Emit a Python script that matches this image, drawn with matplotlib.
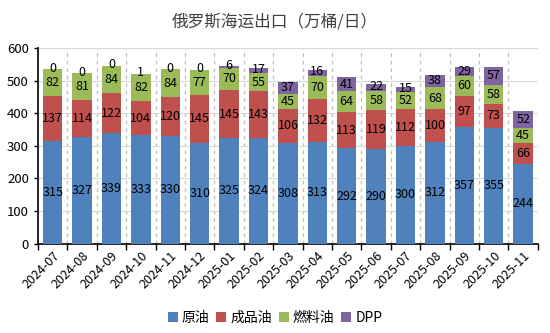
import matplotlib.pyplot as plt
import numpy as np

plt.rcParams['font.family'] = ['Noto Sans CJK SC', 'DejaVu Sans']

months = ["2024-07", "2024-08", "2024-09", "2024-10", "2024-11", "2024-12",
          "2025-01", "2025-02", "2025-03", "2025-04", "2025-05", "2025-06",
          "2025-07", "2025-08", "2025-09", "2025-10", "2025-11"]
crude = [315, 327, 339, 333, 330, 310, 325, 324, 308, 313, 292, 290, 300, 312, 357, 355, 244]
products = [137, 114, 122, 104, 120, 145, 145, 143, 106, 132, 113, 119, 112, 100, 97, 73, 66]
fuel_oil = [82, 81, 84, 82, 84, 77, 70, 55, 45, 70, 64, 58, 52, 68, 60, 58, 45]
dpp = [0, 0, 0, 1, 0, 0, 6, 17, 37, 16, 41, 22, 15, 38, 29, 57, 52]

series = [("原油", crude, "#4F81BD"), ("成品油", products, "#C0504D"),
          ("燃料油", fuel_oil, "#9BBB59"), ("DPP", dpp, "#8064A2")]

fig = plt.figure(figsize=(5.5, 3.33), dpi=100)
ax = fig.add_axes([0.069, 0.268, 0.909, 0.588])

x = np.arange(len(months))
bottom = np.zeros(len(months))
for name, vals, color in series:
    vals = np.array(vals, dtype=float)
    ax.bar(x, vals, 0.66, bottom=bottom, color=color, label=name, zorder=3)
    for xi, b, v in zip(x, bottom, vals):
        y = b + v / 2
        if name == "DPP" and v < 25:
            y += 4  # small slices: lift the label a little so it clears the one below
        ax.text(xi, y, f"{int(v)}", ha='center', va='center',
                fontsize=9, color='black', zorder=4)
    bottom += vals

ax.set_xlim(-0.5, len(months) - 0.5)
ax.set_ylim(0, 600)
ax.set_yticks(range(0, 601, 100))
ax.tick_params(axis='y', labelsize=9.5, length=3, width=1)
ax.yaxis.grid(True, color='#d9d9d9', linewidth=0.8, zorder=0)
for b in np.arange(0.5, len(months) - 0.5, 1.0):
    ax.axvline(b, color='#bfbfbf', linestyle=(0, (3, 3)), linewidth=0.9, zorder=1)
ax.axvline(len(months) - 0.5, color='#bfbfbf', linestyle=(0, (3, 3)), linewidth=0.9, zorder=1)

ax.set_xticks(x)
ax.set_xticklabels(months, rotation=45, ha='right', rotation_mode='anchor', fontsize=9)
ax.tick_params(axis='x', length=0, pad=4)
ax.set_xticks(np.arange(-0.5, len(months), 1.0), minor=True)
ax.tick_params(axis='x', which='minor', length=4, width=1)

for s in ['top', 'right']:
    ax.spines[s].set_visible(False)
ax.spines['left'].set_linewidth(1.2)
ax.spines['bottom'].set_linewidth(1.2)

fig.suptitle("俄罗斯海运出口（万桶/日）", x=0.5, y=0.96, fontsize=12, color='#404040')
fig.legend(loc='center', bbox_to_anchor=(0.5, 0.045), ncol=4, frameon=False,
           fontsize=10, handlelength=0.7, handleheight=0.7, handletextpad=0.3,
           columnspacing=0.5)

fig.savefig("out.png", dpi=100)
